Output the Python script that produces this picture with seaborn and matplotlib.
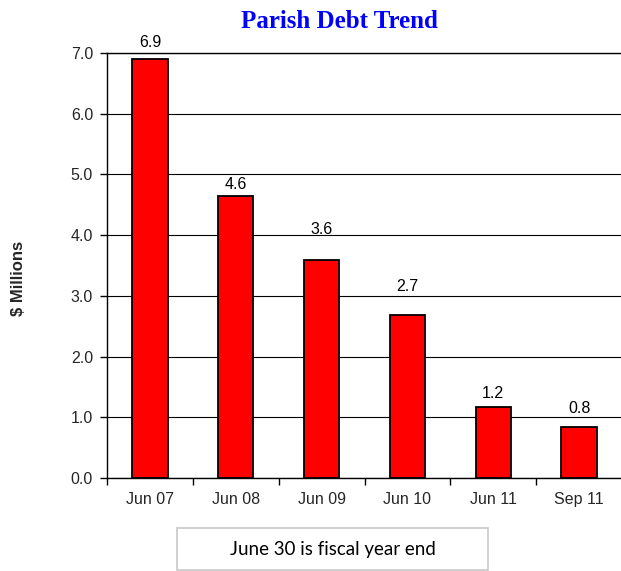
import matplotlib
matplotlib.use("Agg")
import matplotlib.pyplot as plt
from matplotlib.patches import Rectangle
import seaborn as sns
import pandas as pd
import numpy as np

# ---- data ----
categories = ["Jun 07", "Jun 08", "Jun 09", "Jun 10", "Jun 11", "Sep 11"]
debt_millions = [6.90, 4.64, 3.59, 2.68, 1.17, 0.84]
y_ticks = [0.0, 1.0, 2.0, 3.0, 4.0, 5.0, 6.0, 7.0]
title = "Parish Debt Trend"
y_label = "$ Millions"
note = "June 30 is fiscal year end"

df = pd.DataFrame({"period": categories, "debt": debt_millions})

sns.set_style("white")
plt.rcParams["font.family"] = ["Liberation Sans", "DejaVu Sans"]

W, H = 621, 571
fig = plt.figure(figsize=(W / 100, H / 100), dpi=100)
ax = fig.add_axes([107 / W, 1 - 478 / H, 515 / W, (478 - 53) / H])

sns.barplot(data=df, x="period", y="debt", color="#ff0000", saturation=1,
            edgecolor="black", linewidth=1.3, width=0.41, ax=ax)

ax.set_ylim(0, 7)
ax.set_xlim(-0.5, 5.5)
ax.set_yticks(y_ticks)
ax.set_yticklabels([f"{v:.1f}" for v in y_ticks], fontsize=11.5)
ax.tick_params(axis="y", length=5, width=1, color="black", pad=5, direction="out", left=True)
ax.yaxis.grid(True, color="black", linewidth=0.8)
ax.set_axisbelow(True)

# x tick labels at centers, tick marks at category boundaries
ax.tick_params(axis="x", which="major", length=0, pad=10, labelsize=11.5)
ax.set_xticks(np.arange(-0.5, 5.6, 1.0), minor=True)
ax.tick_params(axis="x", which="minor", length=5, width=1, color="black", direction="out", bottom=True)
ax.set_xlabel("")
ax.set_ylabel("")

for side in ["left", "bottom", "top"]:
    ax.spines[side].set_visible(True)
    ax.spines[side].set_color("black")
    ax.spines[side].set_linewidth(1.0)
ax.spines["right"].set_visible(False)

# value labels (Excel-style placement)
label_heights = [7.18, 4.84, 4.10, 3.16, 1.40, 1.14]
for i, (v, lh) in enumerate(zip(debt_millions, label_heights)):
    ax.text(i, lh, f"{v:.1f}", ha="center", va="center", fontsize=11.5, color="black")

fig.text(339 / W, 1 - 22 / H, title, ha="center", va="center",
         family=["Liberation Serif", "DejaVu Serif"], fontweight="bold",
         fontsize=18, color="#0000ff")
fig.text(19 / W, 1 - 278 / H, y_label, ha="center", va="center", rotation=90,
         fontweight="bold", fontsize=12)

fig.add_artist(Rectangle((177 / W, 1 - 570 / H), 311 / W, 42 / H,
                         transform=fig.transFigure, fill=False,
                         edgecolor="#c8c8c8", linewidth=1.2))
fig.text(332.5 / W, 1 - 549 / H, note, ha="center", va="center",
         family=["Lato", "DejaVu Sans"], fontsize=13.5, color="black")

fig.savefig("out.png", dpi=100)
